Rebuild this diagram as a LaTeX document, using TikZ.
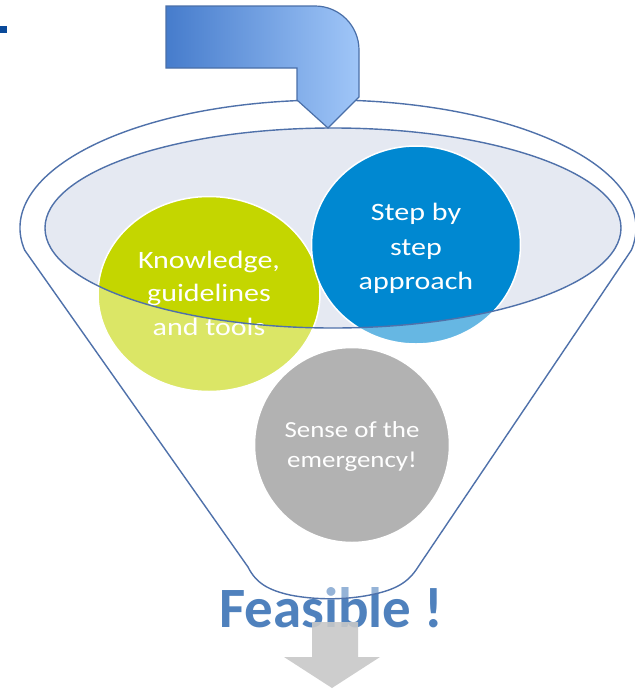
\documentclass[tikz,border=0pt]{standalone}
\usepackage{fontspec}
\newfontfamily\calw[FakeStretch=1.2]{Carlito}
\newfontfamily\calg[FakeStretch=1.17]{Carlito}
\newfontfamily\calb{Carlito}
\usetikzlibrary{shapes.geometric}
\definecolor{kgreen}{RGB}{196,214,0}
\definecolor{kblue}{RGB}{0,136,209}
\definecolor{kgray}{RGB}{178,178,178}
\definecolor{ellfill}{RGB}{229,233,242}
\definecolor{funline}{RGB}{79,113,170}
\definecolor{arrline}{RGB}{74,111,168}
\definecolor{arrdark}{RGB}{70,124,204}
\definecolor{arrlight}{RGB}{160,198,248}
\definecolor{feas}{RGB}{79,129,189}
\definecolor{darkblue}{RGB}{10,74,154}
\definecolor{garrow}{RGB}{200,200,200}
\tikzset{
  circ/.style={ellipse, draw=white, line width=1.5pt, inner sep=0pt},
  wtext/.style={text=white, font=\calw\fontsize{25}{30}\selectfont, anchor=base, inner sep=0pt},
  gtext/.style={text=white, font=\calg\fontsize{23}{28}\selectfont, anchor=base, inner sep=0pt},
  funline/.style={draw=funline, line width=1.4pt},
}
\begin{document}
\begin{tikzpicture}[x=1pt,y=-1pt]
\useasboundingbox (0,0) rectangle (635,689);
\fill[white] (0,0) rectangle (635,689);
% small mark top-left
\fill[darkblue] (0,26) rectangle (7,33);
% funnel top ellipse fill
\fill[ellfill] (333,228) ellipse[x radius=288, y radius=100];
% circles
\node[circ, fill=kgreen, minimum width=222pt, minimum height=195pt] (know) at (209,294) {};
\node[circ, fill=kblue, minimum width=209pt, minimum height=198pt] (step) at (416,245) {};
% texts
\node[wtext] (k1) at (209,268) {Knowledge,};
\node[wtext] (k2) at (209,301) {guidelines};
\node[wtext] (k3) at (209,335) {and tools};
\node[wtext] (s1) at (416,220) {Step by};
\node[wtext] (s2) at (416,255) {step};
\node[wtext] (s3) at (416,289) {approach};
% Feasible text
\node[text=feas, font=\calb\bfseries\fontsize{57}{60}\selectfont, anchor=base, inner sep=0pt] (feasible) at (331,627) {Feasible !};
% funnel body overlay
\fill[white, fill opacity=0.4, even odd rule]
  (24.7,250.2) arc[start angle=170, end angle=370, x radius=308, y radius=128]
  -- (418,567) .. controls (408,583) and (395,590) .. (370,595)
  .. controls (345,600) and (315,600) .. (290,595)
  .. controls (268,590) and (256,583) .. (248,567) -- cycle
  (333,228) ellipse[x radius=288, y radius=100];
% funnel outlines
\draw[funline]
  (24.7,250.2) arc[start angle=170, end angle=370, x radius=308, y radius=128]
  -- (418,567) .. controls (408,583) and (395,590) .. (370,595)
  .. controls (345,600) and (315,600) .. (290,595)
  .. controls (268,590) and (256,583) .. (248,567) -- cycle;
\draw[funline] (333,228) ellipse[x radius=288, y radius=100];
% gray circle
\node[circ, fill=kgray, minimum width=195pt, minimum height=195pt] (sense) at (352,445) {};
\node[gtext] (e1) at (352,437) {Sense of the};
\node[gtext] (e2) at (352,467) {emergency!};
% blue bent arrow
\path[draw=arrline, line width=1.2pt, left color=arrdark, right color=arrlight]
  (166,6) -- (315,6) arc[start angle=270, end angle=360, radius=44]
  -- (359,97) -- (328,128) -- (297,100) -- (297,68) -- (166,68) -- cycle;
% gray down arrow
\fill[garrow, fill opacity=0.9]
  (312,622) -- (358,622) -- (358,657) -- (380,657) -- (332,688) -- (284,657) -- (312,657) -- cycle;
\end{tikzpicture}
\end{document}
